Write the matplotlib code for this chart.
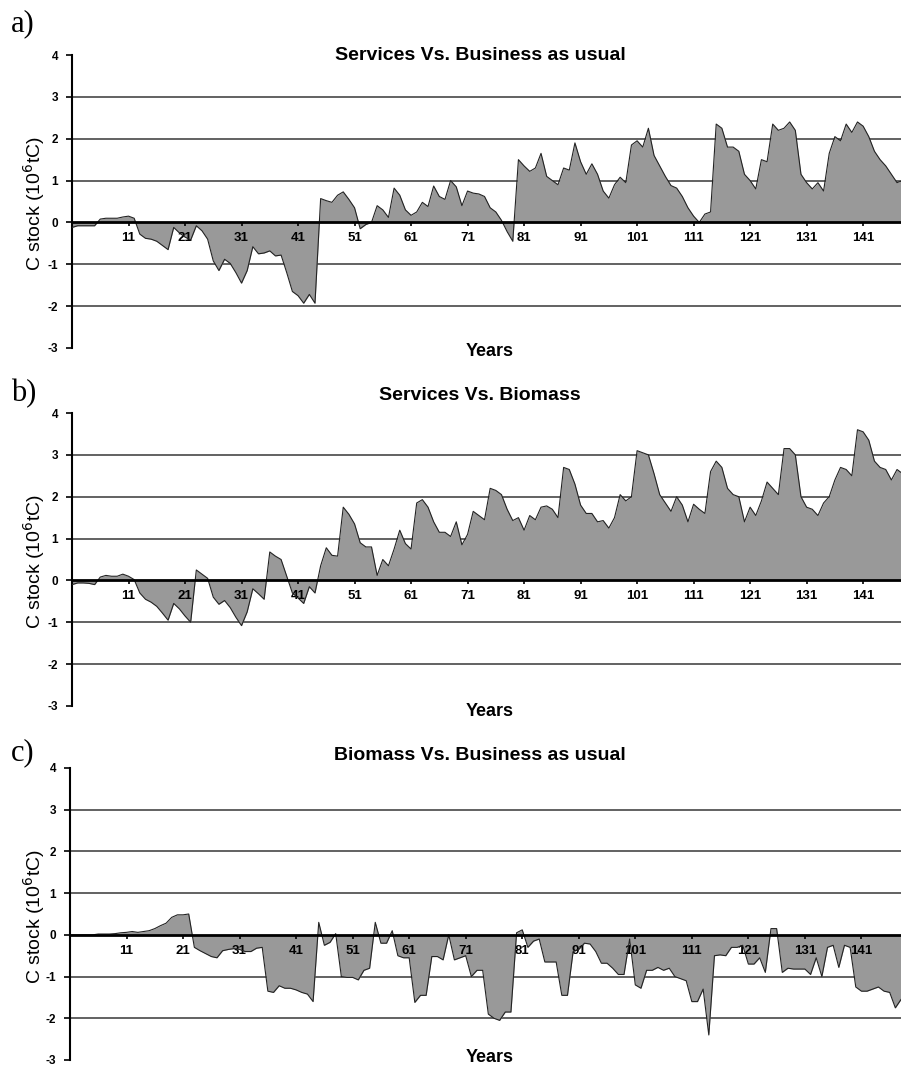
import numpy as np
import matplotlib.pyplot as plt

plt.rcParams['axes.unicode_minus'] = False
plt.rcParams['font.family'] = ['Liberation Sans', 'DejaVu Sans']

# annual differences in C stock (10^6 tC), years 1..148
years = np.arange(1, 149)

serv_vs_bau = [
    -0.12, -0.08, -0.08, -0.08, -0.08, 0.08, 0.1, 0.1, 0.1, 0.13,
    0.15, 0.1, -0.28, -0.38, -0.4, -0.45, -0.55, -0.65, -0.12, -0.25,
    -0.35, -0.42, -0.08, -0.2, -0.4, -0.92, -1.15, -0.88, -0.98, -1.2,
    -1.45, -1.15, -0.58, -0.75, -0.73, -0.68, -0.8, -0.78, -1.2, -1.65,
    -1.75, -1.93, -1.72, -1.93, 0.57, 0.52, 0.48, 0.65, 0.73, 0.55,
    0.35, -0.15, -0.05, 0.0, 0.4, 0.3, 0.12, 0.82, 0.65, 0.3,
    0.17, 0.25, 0.48, 0.38, 0.87, 0.62, 0.55, 1.0, 0.85, 0.4,
    0.75, 0.7, 0.68, 0.62, 0.35, 0.25, 0.05, -0.22, -0.45, 1.5,
    1.35, 1.22, 1.3, 1.65, 1.1, 1.0, 0.9, 1.3, 1.25, 1.9,
    1.45, 1.15, 1.4, 1.15, 0.75, 0.58, 0.9, 1.08, 0.95, 1.85,
    1.95, 1.8, 2.25, 1.6, 1.35, 1.1, 0.88, 0.82, 0.62, 0.35,
    0.15, 0.0, 0.2, 0.25, 2.35, 2.25, 1.8, 1.8, 1.7, 1.15,
    1.0, 0.8, 1.5, 1.45, 2.35, 2.2, 2.25, 2.4, 2.2, 1.15,
    0.95, 0.8, 0.95, 0.75, 1.65, 2.05, 1.95, 2.35, 2.15, 2.4,
    2.3, 2.05, 1.7, 1.5, 1.35, 1.15, 0.95, 1.0,
]

serv_vs_bio = [
    -0.1, -0.06, -0.06, -0.07, -0.1, 0.08, 0.12, 0.1, 0.1, 0.15,
    0.1, 0.02, -0.3, -0.45, -0.52, -0.62, -0.78, -0.95, -0.55, -0.68,
    -0.85, -1.0, 0.25, 0.15, 0.05, -0.4, -0.57, -0.48, -0.65, -0.88,
    -1.08, -0.75, -0.2, -0.32, -0.45, 0.68, 0.58, 0.5, 0.1, -0.3,
    -0.42, -0.55, -0.15, -0.3, 0.35, 0.78, 0.6, 0.58, 1.75, 1.58,
    1.35, 0.9, 0.8, 0.8, 0.12, 0.5, 0.35, 0.75, 1.2, 0.88,
    0.75, 1.85, 1.93, 1.75, 1.4, 1.15, 1.15, 1.05, 1.4, 0.85,
    1.1, 1.65, 1.55, 1.45, 2.2, 2.15, 2.05, 1.7, 1.43, 1.5,
    1.2, 1.55, 1.45, 1.75, 1.78, 1.7, 1.5, 2.7, 2.65, 2.3,
    1.8, 1.6, 1.6, 1.4, 1.43, 1.25, 1.5, 2.05, 1.9, 2.0,
    3.1, 3.05, 3.0, 2.55, 2.05, 1.85, 1.65, 2.0, 1.8, 1.4,
    1.82, 1.7, 1.6, 2.6, 2.85, 2.7, 2.2, 2.05, 2.0, 1.4,
    1.75, 1.55, 1.9, 2.35, 2.2, 2.05, 3.15, 3.15, 3.0, 2.0,
    1.75, 1.7, 1.55, 1.85, 2.0, 2.4, 2.7, 2.65, 2.5, 3.6,
    3.55, 3.35, 2.85, 2.7, 2.65, 2.4, 2.65, 2.55,
]

bio_vs_bau = [
    0.0, 0.0, 0.0, 0.0, 0.0, 0.02, 0.02, 0.02, 0.03, 0.05,
    0.06, 0.08, 0.06, 0.08, 0.1, 0.15, 0.22, 0.28, 0.42, 0.48,
    0.48, 0.5, -0.3, -0.38, -0.45, -0.52, -0.55, -0.38, -0.35, -0.33,
    -0.35, -0.4, -0.4, -0.32, -0.3, -1.35, -1.38, -1.22, -1.28, -1.28,
    -1.32, -1.38, -1.42, -1.6, 0.3, -0.25, -0.18, 0.03, -1.0, -1.02,
    -1.02, -1.08, -0.85, -0.8, 0.3, -0.2, -0.2, 0.1, -0.5, -0.55,
    -0.55, -1.62, -1.45, -1.45, -0.52, -0.52, -0.6, 0.0, -0.6, -0.55,
    -0.5, -1.0, -0.85, -0.85, -1.9, -2.0, -2.05, -1.85, -1.85, 0.05,
    0.12, -0.3, -0.15, -0.1, -0.65, -0.65, -0.65, -1.45, -1.45, -0.4,
    -0.35, -0.2, -0.22, -0.4, -0.68, -0.68, -0.8, -0.95, -0.95, -0.1,
    -1.2, -1.28, -0.85, -0.85, -0.78, -0.85, -0.8, -1.0, -1.05, -1.1,
    -1.6, -1.6, -1.3, -2.4, -0.5, -0.48, -0.5, -0.3, -0.3, -0.25,
    -0.7, -0.7, -0.55, -0.9, 0.15, 0.15, -0.9, -0.8, -0.82, -0.82,
    -0.82, -0.95, -0.55, -1.0, -0.3, -0.25, -0.78, -0.25, -0.3, -1.25,
    -1.35, -1.35, -1.3, -1.25, -1.35, -1.38, -1.75, -1.55,
]

titles = ['Services Vs. Business as usual', 'Services Vs. Biomass',
          'Biomass Vs. Business as usual']
letters = ['a)', 'b)', 'c)']
series = [serv_vs_bau, serv_vs_bio, bio_vs_bau]
xticks = list(range(11, 148, 10))
yticks = list(range(-3, 5))

W, H = 901, 1070
fig = plt.figure(figsize=(W / 100, H / 100), dpi=100)

# pixel layout: (left, top of axes at y=4, bottom at y=-3, xmax)
boxes = [(72, 55, 348, 147.7), (72, 413, 706, 147.7), (70, 768, 1060, 148.0)]
title_y = [55, 395, 755]
letter_y = [24, 394, 753]
years_y = [352, 711, 1057]

for i in range(3):
    left, top, bot, xmax = boxes[i]
    ax = fig.add_axes([left / W, 1 - bot / H, (W - left) / W, (bot - top) / H])
    ax.set_axisbelow(False)
    vals = series[i]
    ax.fill_between(years, 0, vals, color='#999999', linewidth=0, zorder=2)
    ax.plot(years, vals, color='#222222', linewidth=0.8, zorder=3)

    ax.set_xlim(1, xmax)
    ax.set_ylim(-3, 4)
    for g in [-2, -1, 1, 2, 3]:
        ax.axhline(g, color='#555555', linewidth=1.3, zorder=1)

    for s in ['top', 'right']:
        ax.spines[s].set_visible(False)
    ax.spines['bottom'].set_position(('data', 0))
    ax.spines['bottom'].set_linewidth(2.0)
    ax.spines['bottom'].set_zorder(4)
    ax.spines['left'].set_linewidth(1.5)

    ax.set_xticks(xticks)
    ax.set_xticklabels([str(t) for t in xticks], fontsize=9.5, fontweight='bold')
    ax.tick_params(axis='x', direction='out', length=3, width=1.2, pad=4)
    ax.set_yticks(yticks)
    ax.set_yticklabels([str(t) for t in yticks], fontsize=8.5, fontweight='bold')
    ax.tick_params(axis='y', direction='out', length=4, width=1.2, pad=6)

    fig.text(480 / W, 1 - title_y[i] / H, titles[i], ha='center', va='center',
             fontsize=14, fontweight='bold')
    fig.text(490 / W, 1 - years_y[i] / H, 'Years', ha='center', va='center',
             fontsize=13, fontweight='bold')
    fig.text(34 / W, 1 - (top + bot) / 2 / H - 0.002, 'C stock (10$^6$tC)',
             ha='center', va='center', rotation=90, fontsize=14)
    fig.text(11 / W, 1 - letter_y[i] / H, letters[i], ha='left', va='center',
             fontsize=22, family=['Liberation Serif', 'DejaVu Serif'])

fig.savefig('out.png', dpi=100)
